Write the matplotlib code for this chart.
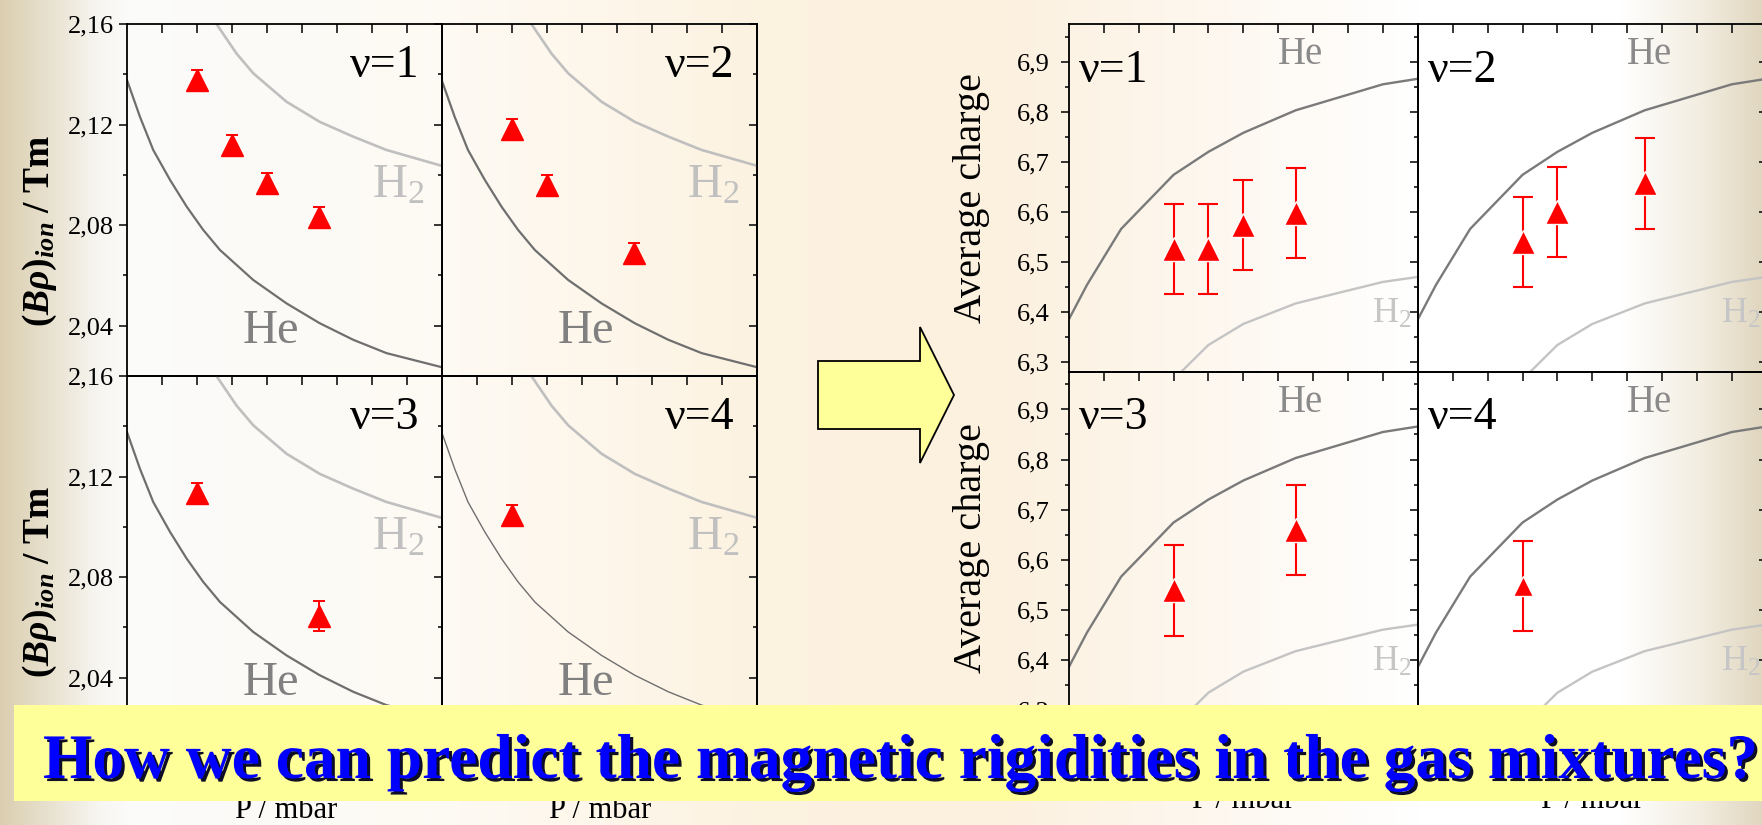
import numpy as np
import matplotlib
matplotlib.use('Agg')
import matplotlib.pyplot as plt
import matplotlib.patches as mpatches
import matplotlib.patheffects as pe
from matplotlib.ticker import FixedLocator

plt.rcParams['font.family'] = ['Liberation Serif', 'DejaVu Serif']
plt.rcParams['mathtext.fontset'] = 'custom'
plt.rcParams['mathtext.rm'] = 'Liberation Serif'
plt.rcParams['mathtext.it'] = 'Liberation Serif:italic:bold'
plt.rcParams['mathtext.bf'] = 'Liberation Serif:bold'

W, H = 1762, 825

# ---------------- data ----------------
nu_labels = ['ν=1', 'ν=2', 'ν=3', 'ν=4']

# left: magnetic rigidity vs pressure (arbitrary pressure units)
rig_x = [[3, 4, 5, 6.5], [3, 4, 6.5], [3, 6.5], [3]]
rig_y = [[2.1377, 2.1119, 2.0966, 2.0833],
         [2.1181, 2.0960, 2.0688],
         [2.1133, 2.0646],
         [2.1047]]
rig_err = [[0.004, 0.004, 0.004, 0.004],
           [0.004, 0.004, 0.004],
           [0.004, 0.006],
           [0.004]]
he_rig_x = [1, 1.37, 1.75, 2.23, 2.71, 3.18, 3.66, 4.61, 5.56, 6.51, 7.47, 8.42, 10]
he_rig_y = [2.1377, 2.1231, 2.1099, 2.0980, 2.0873, 2.0781, 2.0701, 2.0582,
            2.0489, 2.0410, 2.0344, 2.0291, 2.0235]
h2_rig_x = [3.4, 3.56, 4.13, 4.61, 5.56, 6.51, 7.47, 8.42, 10]
h2_rig_y = [2.166, 2.1600, 2.1483, 2.1404, 2.1291, 2.1211, 2.1152, 2.1099, 2.1036]

# right: average charge vs pressure
q_x = [[3, 4, 5, 6.5], [3, 4, 6.5], [3, 6.5], [3]]
q_y = [[6.526, 6.526, 6.574, 6.598],
       [6.540, 6.600, 6.657],
       [6.539, 6.660],
       [6.548]]
q_err = [[0.090, 0.090, 0.090, 0.090],
         [0.090, 0.090, 0.091],
         [0.091, 0.090],
         [0.090]]
he_q_x = [0, 0.52, 1.5, 3.0, 4.0, 5.0, 6.5, 9.0, 10]
he_q_y = [6.385, 6.454, 6.566, 6.674, 6.720, 6.758, 6.803, 6.855, 6.866]
h2_q_x = [3.0, 4.0, 5.0, 6.5, 9.0, 10]
h2_q_y = [6.265, 6.334, 6.376, 6.417, 6.460, 6.470]

rig_ticks = [2.04, 2.08, 2.12, 2.16]
rig_ticklabels = ['2,04', '2,08', '2,12', '2,16']
rig_minor = [2.06, 2.10, 2.14]
q_ticks = [6.3, 6.4, 6.5, 6.6, 6.7, 6.8, 6.9]
q_ticklabels = ['6,3', '6,4', '6,5', '6,6', '6,7', '6,8', '6,9']
q_minor = [6.35, 6.45, 6.55, 6.65, 6.75, 6.85, 6.95]

title = 'How we can predict the magnetic rigidities in the gas mixtures?'

# ---------------- figure ----------------
fig = plt.figure(figsize=(W / 100, H / 100), dpi=100)


def px_axes(x0, y0, x1, y1, **kw):
    # pixel box measured from the top-left corner
    return fig.add_axes([x0 / W, 1 - y1 / H, (x1 - x0) / W, (y1 - y0) / H], **kw)


# slide background gradient
bg_stops = [0, 40, 100, 130, 450, 760, 1000, 1250, 1420, 1620, 1700, 1762]
bg_colors = [(0.86, 0.81, 0.69), (0.90, 0.87, 0.79), (0.97, 0.965, 0.95),
             (0.985, 0.985, 0.98), (0.995, 0.98, 0.955), (0.99, 0.95, 0.88),
             (0.99, 0.945, 0.875), (0.995, 0.975, 0.95), (1, 1, 1), (1, 1, 1),
             (0.95, 0.93, 0.88), (0.88, 0.84, 0.75)]
bg = px_axes(0, 0, W, H)
bg.set_zorder(-5)
bg.set_axis_off()
cols = np.arange(W)
grad = np.stack([np.interp(cols, bg_stops, [c[k] for c in bg_colors]) for k in range(3)], axis=-1)
bg.imshow(grad[None, :, :], aspect='auto', extent=(0, 1, 0, 1))


def frame(ax, col, xticks, yt, ytl, ymin, ylab_size, ylab_pad):
    ax.set_facecolor('none')
    for s in ax.spines.values():
        s.set_linewidth(1.3)
    ax.set_xticks(xticks)
    ax.tick_params(axis='x', which='both', direction='in', top=True, bottom=False,
                   labelbottom=False, length=6.5, width=1.1)
    ax.set_yticks(yt)
    ax.set_yticklabels(ytl)
    ax.yaxis.set_minor_locator(FixedLocator(ymin))
    ax.tick_params(axis='y', which='both', direction='out', left=True, right=False,
                   width=1.1, labelsize=ylab_size, pad=ylab_pad, labelleft=(col == 0))
    ax.tick_params(axis='y', which='major', length=5.8)
    ax.tick_params(axis='y', which='minor', length=2.9)
    if col == 1:
        sec = ax.secondary_yaxis('right')
        sec.set_yticks(yt)
        sec.yaxis.set_minor_locator(FixedLocator(ymin))
        sec.tick_params(which='both', direction='in', labelright=False, width=1.1)
        sec.tick_params(which='major', length=5.8)
        sec.tick_params(which='minor', length=2.9)
        sec.spines['right'].set_linewidth(1.3)


# ---- left block: (B rho)_ion ----
left_cols = [127, 441.7, 757]
left_rows = [24, 376, 728]
for i in range(4):
    r, c = divmod(i, 2)
    ax = px_axes(left_cols[c], left_rows[r], left_cols[c + 1], left_rows[r + 1])
    ax.plot(he_rig_x, he_rig_y, color='#6f6f6f', lw=1.6 if i < 3 else 1.0)
    ax.plot(h2_rig_x, h2_rig_y, color='#bfbfbf', lw=1.9)
    ax.errorbar(rig_x[i], rig_y[i], yerr=rig_err[i], fmt='^', color='red', ms=16,
                capsize=4.5, elinewidth=1.4, capthick=1.4)
    ax.text(9.35, 2.139, nu_labels[i], ha='right', fontsize=33)
    ax.text(4.3, 2.033, 'He', color='#808080', fontsize=35)
    ax.text(8.0, 2.091, 'H$_2$', color='#c0c0c0', fontsize=35)
    ax.set_xlim(1, 10)
    ax.set_ylim(2.02, 2.16)
    frame(ax, c, [2, 3, 4, 5, 6, 7, 8, 9], rig_ticks, rig_ticklabels, rig_minor, 19, 3.6)

# ---- right block: average charge ----
right_cols = [1068.8, 1417.8, 1766.8]
right_rows = [24, 371.7, 719.4]
for i in range(4):
    r, c = divmod(i, 2)
    ax = px_axes(right_cols[c], right_rows[r], right_cols[c + 1], right_rows[r + 1])
    ax.plot(he_q_x, he_q_y, color='#7a7a7a', lw=1.7)
    ax.plot(h2_q_x, h2_q_y, color='#c4c4c4', lw=1.7)
    ax.errorbar(q_x[i], q_y[i], yerr=q_err[i], fmt='none', ecolor='red',
                capsize=7, elinewidth=1.5, capthick=1.5)
    ax.plot(q_x[i], q_y[i], linestyle='none', marker='^', ms=17 if i < 3 else 15,
            color='red', mec='white', mew=1.0)
    ax.text(0.3, 6.86, nu_labels[i], ha='left', fontsize=33)
    ax.text(6.0, 6.895, 'He', color='#8a8a8a', fontsize=28)
    ax.text(8.7, 6.378, 'H$_2$', color='#c6c6c6', fontsize=26)
    ax.set_xlim(0, 10)
    ax.set_ylim(6.2806, 6.9755)
    frame(ax, c, list(range(1, 10)), q_ticks, q_ticklabels, q_minor, 19, 8)

# axis titles
ylab_rig = r'$\mathbf{(}B\rho\mathbf{)}_{ion}$ / Tm'
fig.text(40 / W, 1 - 231 / H, ylab_rig, rotation=90, ha='center', va='center',
         fontsize=27, fontweight='bold')
fig.text(40 / W, 1 - 582 / H, ylab_rig, rotation=90, ha='center', va='center',
         fontsize=27, fontweight='bold')
fig.text(971 / W, 1 - 198 / H, 'Average charge', rotation=90, ha='center', va='center',
         fontsize=29)
fig.text(971 / W, 1 - 548 / H, 'Average charge', rotation=90, ha='center', va='center',
         fontsize=29)
for xc in [286.5, 600]:
    fig.text(xc / W, 1 - 818 / H, 'P / mbar', ha='center', va='baseline', fontsize=22)
for xc in [1243, 1592]:
    fig.text(xc / W, 1 - 808 / H, 'P / mbar', ha='center', va='baseline', fontsize=22)

# arrow between the two blocks
arrow = mpatches.FancyArrow(818 / W, 1 - 395 / H, 136 / W, 0, width=68 / H,
                            head_width=136 / H, head_length=34 / W,
                            length_includes_head=True, transform=fig.transFigure,
                            facecolor='#ffff99', edgecolor='black', lw=1.3, zorder=3)
fig.add_artist(arrow)

# question banner
banner = mpatches.Rectangle((14 / W, 1 - 800.7 / H), 1 - 14 / W, 95.7 / H,
                            transform=fig.transFigure, facecolor='#ffff99',
                            edgecolor='none', zorder=5)
fig.add_artist(banner)
t = fig.text(43 / W, 1 - 778 / H, title, ha='left', va='baseline', fontsize=44,
             fontweight='bold', color='#0000ff', zorder=6,
             path_effects=[pe.withSimplePatchShadow(offset=(2.2, -2.2),
                                                    shadow_rgbFace='#000020', alpha=0.95)])
fig.canvas.draw()
w = t.get_window_extent(fig.canvas.get_renderer()).width
t.set_fontsize(44 * 1716 / w)

fig.savefig('out.png', dpi=100)
